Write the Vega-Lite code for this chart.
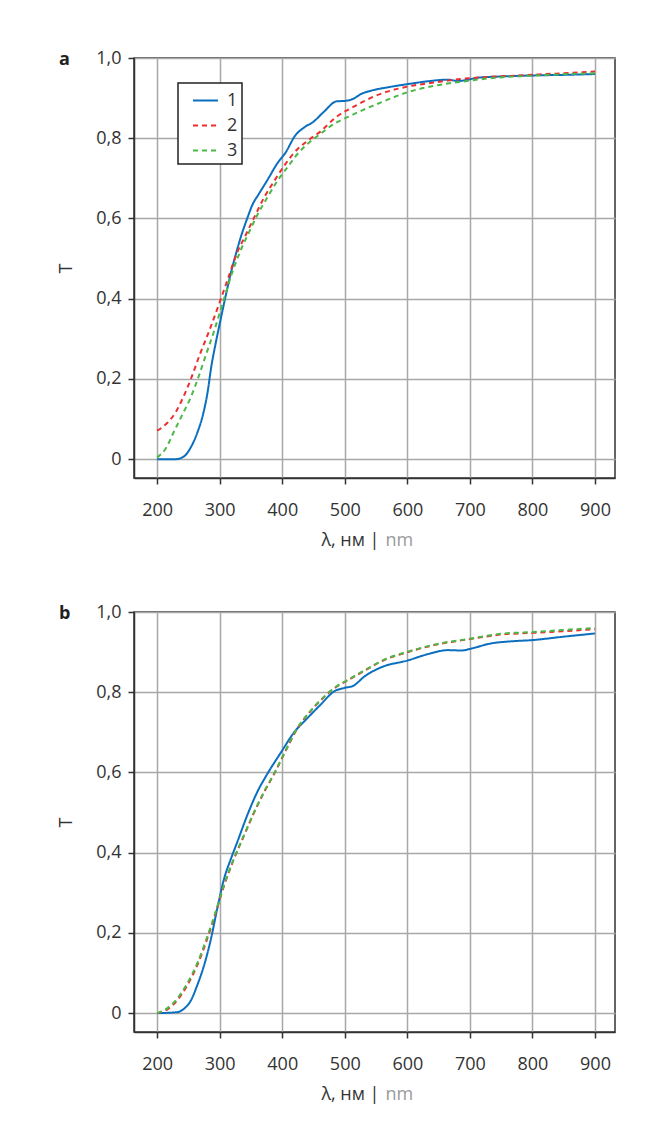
{
  "$schema": "https://vega.github.io/schema/vega-lite/v6.json",
  "background": "white",
  "padding": {"left": 57, "top": 48, "right": 5, "bottom": 5},
  "spacing": 52,
  "datasets": {
    "a": [
      {"s": "1", "w": 200, "t": 0.0}, {"s": "1", "w": 215, "t": 0.0}, {"s": "1", "w": 230, "t": 0.0},
      {"s": "1", "w": 243, "t": 0.007}, {"s": "1", "w": 254, "t": 0.03}, {"s": "1", "w": 264, "t": 0.065},
      {"s": "1", "w": 275, "t": 0.122}, {"s": "1", "w": 281, "t": 0.17}, {"s": "1", "w": 286, "t": 0.225},
      {"s": "1", "w": 294, "t": 0.292}, {"s": "1", "w": 302, "t": 0.352}, {"s": "1", "w": 310, "t": 0.41},
      {"s": "1", "w": 318, "t": 0.465}, {"s": "1", "w": 326, "t": 0.512}, {"s": "1", "w": 334, "t": 0.555},
      {"s": "1", "w": 344, "t": 0.6}, {"s": "1", "w": 352, "t": 0.633}, {"s": "1", "w": 363, "t": 0.662},
      {"s": "1", "w": 376, "t": 0.695}, {"s": "1", "w": 392, "t": 0.737}, {"s": "1", "w": 406, "t": 0.766},
      {"s": "1", "w": 420, "t": 0.805}, {"s": "1", "w": 436, "t": 0.828}, {"s": "1", "w": 449, "t": 0.84},
      {"s": "1", "w": 466, "t": 0.865}, {"s": "1", "w": 487, "t": 0.892}, {"s": "1", "w": 500, "t": 0.893},
      {"s": "1", "w": 513, "t": 0.898}, {"s": "1", "w": 527, "t": 0.911}, {"s": "1", "w": 543, "t": 0.919},
      {"s": "1", "w": 569, "t": 0.927}, {"s": "1", "w": 601, "t": 0.935}, {"s": "1", "w": 633, "t": 0.942},
      {"s": "1", "w": 665, "t": 0.946}, {"s": "1", "w": 681, "t": 0.9425}, {"s": "1", "w": 697, "t": 0.946},
      {"s": "1", "w": 713, "t": 0.951}, {"s": "1", "w": 751, "t": 0.954}, {"s": "1", "w": 799, "t": 0.9565},
      {"s": "1", "w": 852, "t": 0.958}, {"s": "1", "w": 900, "t": 0.96},

      {"s": "2", "w": 200, "t": 0.071}, {"s": "2", "w": 216, "t": 0.09}, {"s": "2", "w": 230, "t": 0.118},
      {"s": "2", "w": 241, "t": 0.152}, {"s": "2", "w": 254, "t": 0.2}, {"s": "2", "w": 268, "t": 0.26},
      {"s": "2", "w": 283, "t": 0.319}, {"s": "2", "w": 302, "t": 0.4}, {"s": "2", "w": 315, "t": 0.458},
      {"s": "2", "w": 328, "t": 0.515}, {"s": "2", "w": 342, "t": 0.56},
      {"s": "2", "w": 355, "t": 0.602}, {"s": "2", "w": 371, "t": 0.652}, {"s": "2", "w": 387, "t": 0.693},
      {"s": "2", "w": 403, "t": 0.731}, {"s": "2", "w": 419, "t": 0.764}, {"s": "2", "w": 440, "t": 0.793},
      {"s": "2", "w": 462, "t": 0.818}, {"s": "2", "w": 484, "t": 0.85}, {"s": "2", "w": 516, "t": 0.88},
      {"s": "2", "w": 548, "t": 0.905}, {"s": "2", "w": 601, "t": 0.929}, {"s": "2", "w": 649, "t": 0.94},
      {"s": "2", "w": 681, "t": 0.947}, {"s": "2", "w": 729, "t": 0.9525}, {"s": "2", "w": 799, "t": 0.958},
      {"s": "2", "w": 900, "t": 0.9665},

      {"s": "3", "w": 200, "t": 0.004}, {"s": "3", "w": 214, "t": 0.027}, {"s": "3", "w": 227, "t": 0.069},
      {"s": "3", "w": 240, "t": 0.11}, {"s": "3", "w": 254, "t": 0.155}, {"s": "3", "w": 265, "t": 0.2},
      {"s": "3", "w": 278, "t": 0.26}, {"s": "3", "w": 291, "t": 0.319}, {"s": "3", "w": 307, "t": 0.4},
      {"s": "3", "w": 320, "t": 0.465}, {"s": "3", "w": 334, "t": 0.522}, {"s": "3", "w": 347, "t": 0.566},
      {"s": "3", "w": 360, "t": 0.608}, {"s": "3", "w": 376, "t": 0.652}, {"s": "3", "w": 392, "t": 0.693},
      {"s": "3", "w": 408, "t": 0.727}, {"s": "3", "w": 424, "t": 0.76}, {"s": "3", "w": 440, "t": 0.785},
      {"s": "3", "w": 462, "t": 0.812}, {"s": "3", "w": 484, "t": 0.837}, {"s": "3", "w": 505, "t": 0.853},
      {"s": "3", "w": 527, "t": 0.869}, {"s": "3", "w": 559, "t": 0.89}, {"s": "3", "w": 601, "t": 0.915},
      {"s": "3", "w": 644, "t": 0.931}, {"s": "3", "w": 687, "t": 0.941}, {"s": "3", "w": 729, "t": 0.949},
      {"s": "3", "w": 799, "t": 0.956}, {"s": "3", "w": 900, "t": 0.962}
    ],
    "b": [
      {"s": "1", "w": 200, "t": 0.0}, {"s": "1", "w": 232, "t": 0.0025}, {"s": "1", "w": 243, "t": 0.011},
      {"s": "1", "w": 254, "t": 0.0316}, {"s": "1", "w": 264, "t": 0.069}, {"s": "1", "w": 275, "t": 0.119},
      {"s": "1", "w": 286, "t": 0.185}, {"s": "1", "w": 296, "t": 0.26}, {"s": "1", "w": 307, "t": 0.335},
      {"s": "1", "w": 318, "t": 0.385}, {"s": "1", "w": 328, "t": 0.426}, {"s": "1", "w": 344, "t": 0.493},
      {"s": "1", "w": 360, "t": 0.551}, {"s": "1", "w": 376, "t": 0.596}, {"s": "1", "w": 398, "t": 0.65},
      {"s": "1", "w": 419, "t": 0.7}, {"s": "1", "w": 440, "t": 0.735}, {"s": "1", "w": 460, "t": 0.767},
      {"s": "1", "w": 484, "t": 0.803}, {"s": "1", "w": 500, "t": 0.811}, {"s": "1", "w": 513, "t": 0.8156},
      {"s": "1", "w": 532, "t": 0.84}, {"s": "1", "w": 559, "t": 0.8626}, {"s": "1", "w": 600, "t": 0.879},
      {"s": "1", "w": 633, "t": 0.895}, {"s": "1", "w": 665, "t": 0.905}, {"s": "1", "w": 687, "t": 0.904},
      {"s": "1", "w": 700, "t": 0.908}, {"s": "1", "w": 735, "t": 0.922}, {"s": "1", "w": 767, "t": 0.927},
      {"s": "1", "w": 800, "t": 0.93}, {"s": "1", "w": 847, "t": 0.938}, {"s": "1", "w": 900, "t": 0.9465},

      {"s": "2", "w": 200, "t": 0.0}, {"s": "2", "w": 216, "t": 0.009}, {"s": "2", "w": 232, "t": 0.0316},
      {"s": "2", "w": 248, "t": 0.069}, {"s": "2", "w": 264, "t": 0.119}, {"s": "2", "w": 280, "t": 0.185},
      {"s": "2", "w": 294, "t": 0.252}, {"s": "2", "w": 307, "t": 0.318}, {"s": "2", "w": 323, "t": 0.385},
      {"s": "2", "w": 339, "t": 0.443}, {"s": "2", "w": 355, "t": 0.5}, {"s": "2", "w": 371, "t": 0.551},
      {"s": "2", "w": 387, "t": 0.596}, {"s": "2", "w": 403, "t": 0.646}, {"s": "2", "w": 424, "t": 0.709},
      {"s": "2", "w": 446, "t": 0.754}, {"s": "2", "w": 467, "t": 0.788}, {"s": "2", "w": 488, "t": 0.815},
      {"s": "2", "w": 500, "t": 0.8255}, {"s": "2", "w": 532, "t": 0.854}, {"s": "2", "w": 564, "t": 0.881},
      {"s": "2", "w": 600, "t": 0.8996}, {"s": "2", "w": 644, "t": 0.918}, {"s": "2", "w": 700, "t": 0.9325},
      {"s": "2", "w": 751, "t": 0.944}, {"s": "2", "w": 800, "t": 0.948}, {"s": "2", "w": 847, "t": 0.952},
      {"s": "2", "w": 900, "t": 0.957},

      {"s": "3", "w": 200, "t": 0.0}, {"s": "3", "w": 216, "t": 0.012}, {"s": "3", "w": 232, "t": 0.036},
      {"s": "3", "w": 248, "t": 0.074}, {"s": "3", "w": 264, "t": 0.124}, {"s": "3", "w": 280, "t": 0.19},
      {"s": "3", "w": 294, "t": 0.255}, {"s": "3", "w": 307, "t": 0.32}, {"s": "3", "w": 323, "t": 0.386},
      {"s": "3", "w": 339, "t": 0.444}, {"s": "3", "w": 355, "t": 0.501}, {"s": "3", "w": 371, "t": 0.552},
      {"s": "3", "w": 387, "t": 0.597}, {"s": "3", "w": 403, "t": 0.647}, {"s": "3", "w": 424, "t": 0.71},
      {"s": "3", "w": 446, "t": 0.755}, {"s": "3", "w": 467, "t": 0.789}, {"s": "3", "w": 488, "t": 0.816},
      {"s": "3", "w": 500, "t": 0.8265}, {"s": "3", "w": 532, "t": 0.855}, {"s": "3", "w": 564, "t": 0.882},
      {"s": "3", "w": 600, "t": 0.9006}, {"s": "3", "w": 644, "t": 0.919}, {"s": "3", "w": 700, "t": 0.9335},
      {"s": "3", "w": 751, "t": 0.946}, {"s": "3", "w": 800, "t": 0.95}, {"s": "3", "w": 847, "t": 0.955},
      {"s": "3", "w": 900, "t": 0.96}
    ]
  },
  "vconcat": [
    {
      "width": 481,
      "height": 420,
      "title": {"text": "a", "anchor": "start", "frame": "group", "dx": -75, "dy": 29, "baseline": "middle", "offset": 0},
      "data": {"name": "a"},
      "layer": [
        {
          "transform": [{"filter": "datum.s == '1'"}],
          "mark": {"type": "line", "strokeWidth": 2, "interpolate": "monotone"},
          "encoding": {
            "x": {"field": "w", "type": "quantitative", "scale": {"domain": [163, 932], "nice": false, "zero": false},
                  "axis": {"orient": "bottom", "values": [200, 300, 400, 500, 600, 700, 800, 900], "title": "λ, нм |", "titleX": 245, "titleY": 67, "titleAlign": "right", "titleBaseline": "alphabetic", "titleAnchor": null}},
            "y": {"field": "t", "type": "quantitative", "scale": {"domain": [-0.047, 1.0], "nice": false, "zero": false},
                  "axis": {"title": "T", "values": [0, 0.2, 0.4, 0.6, 0.8, 1.0], "labelExpr": "datum.value == 0 ? '0' : replace(format(datum.value, '.1f'), '.', ',')", "titlePadding": 20, "labelPadding": 7}},
            "color": {"field": "s", "type": "nominal", "scale": {"domain": ["1", "2", "3"], "range": ["#0b6fbf", "#ee2e2e", "#4cb848"]},
                      "legend": {"orient": "none", "legendX": 44, "legendY": 25, "title": null}},
            "strokeDash": {"field": "s", "type": "nominal", "scale": {"domain": ["1", "2", "3"], "range": [[1, 0], [5, 4], [5, 4]]},
                           "legend": {"orient": "none", "legendX": 44, "legendY": 25, "title": null}}
          }
        },
        {
          "transform": [{"filter": "datum.s != '1'"}],
          "mark": {"type": "line", "strokeWidth": 2, "interpolate": "monotone"},
          "encoding": {
            "x": {"field": "w", "type": "quantitative",
                  "axis": {"orient": "bottom", "title": "nm", "titleColor": "#9a9a9a", "labels": false, "ticks": false, "domain": false, "grid": false, "titleX": 251, "titleY": 67, "titleAlign": "left", "titleBaseline": "alphabetic", "titleAnchor": null}},
            "y": {"field": "t", "type": "quantitative"},
            "color": {"field": "s", "type": "nominal", "legend": {"orient": "none", "legendX": 44, "legendY": 25, "title": null}},
            "strokeDash": {"field": "s", "type": "nominal", "legend": {"orient": "none", "legendX": 44, "legendY": 25, "title": null}}
          }
        }
      ],
      "resolve": {"axis": {"x": "independent"}}
    },
    {
      "width": 481,
      "height": 420,
      "title": {"text": "b", "anchor": "start", "frame": "group", "dx": -75, "dy": 29, "baseline": "middle", "offset": 0},
      "data": {"name": "b"},
      "layer": [
        {
          "transform": [{"filter": "datum.s == '1'"}],
          "mark": {"type": "line", "strokeWidth": 2, "interpolate": "monotone"},
          "encoding": {
            "x": {"field": "w", "type": "quantitative", "scale": {"domain": [163, 932], "nice": false, "zero": false},
                  "axis": {"orient": "bottom", "values": [200, 300, 400, 500, 600, 700, 800, 900], "title": "λ, нм |", "titleX": 245, "titleY": 67, "titleAlign": "right", "titleBaseline": "alphabetic", "titleAnchor": null}},
            "y": {"field": "t", "type": "quantitative", "scale": {"domain": [-0.047, 1.0], "nice": false, "zero": false},
                  "axis": {"title": "T", "values": [0, 0.2, 0.4, 0.6, 0.8, 1.0], "labelExpr": "datum.value == 0 ? '0' : replace(format(datum.value, '.1f'), '.', ',')", "titlePadding": 20, "labelPadding": 7}},
            "color": {"field": "s", "type": "nominal", "scale": {"domain": ["1", "2", "3"], "range": ["#0b6fbf", "#ee2e2e", "#4cb848"]},
                      "legend": {"orient": "none", "legendX": 44, "legendY": 52, "title": null}},
            "strokeDash": {"field": "s", "type": "nominal", "scale": {"domain": ["1", "2", "3"], "range": [[1, 0], [5, 4], [5, 4]]},
                           "legend": {"orient": "none", "legendX": 44, "legendY": 52, "title": null}}
          }
        },
        {
          "transform": [{"filter": "datum.s != '1'"}],
          "mark": {"type": "line", "strokeWidth": 2, "interpolate": "monotone"},
          "encoding": {
            "x": {"field": "w", "type": "quantitative",
                  "axis": {"orient": "bottom", "title": "nm", "titleColor": "#9a9a9a", "labels": false, "ticks": false, "domain": false, "grid": false, "titleX": 251, "titleY": 67, "titleAlign": "left", "titleBaseline": "alphabetic", "titleAnchor": null}},
            "y": {"field": "t", "type": "quantitative"},
            "color": {"field": "s", "type": "nominal", "legend": {"orient": "none", "legendX": 44, "legendY": 52, "title": null}},
            "strokeDash": {"field": "s", "type": "nominal", "legend": {"orient": "none", "legendX": 44, "legendY": 52, "title": null}}
          }
        }
      ],
      "resolve": {"axis": {"x": "independent"}}
    }
  ],
  "config": {
    "font": "Open Sans",
    "view": {"stroke": "#333333", "strokeWidth": 1.5},
    "axis": {
      "domainColor": "#333333", "domainWidth": 1.5,
      "tickColor": "#333333", "tickSize": 6, "tickWidth": 1.5,
      "gridColor": "#a8a8a8", "gridWidth": 1.5,
      "labelFont": "Open Sans", "labelFontSize": 18, "labelColor": "#333333", "labelPadding": 17,
      "titleFont": "Open Sans", "titleFontSize": 18, "titleFontWeight": "normal", "titleColor": "#333333"
    },
    "legend": {
      "strokeColor": "#222222", "strokeWidth": 1.5, "fillColor": "white", "padding": 4,
      "symbolType": "stroke", "symbolSize": 625, "symbolStrokeWidth": 2, "symbolOffset": 10,
      "labelFont": "Open Sans", "labelFontSize": 18, "labelColor": "#333333", "labelOffset": 8, "rowPadding": 2
    },
    "title": {"font": "Open Sans", "fontSize": 18, "fontWeight": "bold", "color": "#222222"}
  }
}
